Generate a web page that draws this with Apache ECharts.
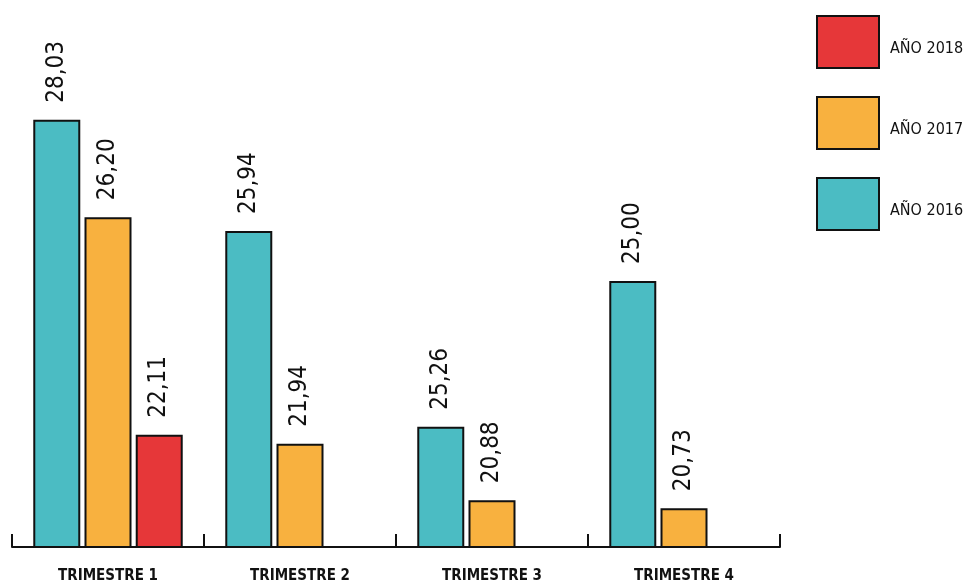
<!DOCTYPE html>
<html>
<head>
<meta charset="utf-8">
<script src="https://cdn.jsdelivr.net/npm/echarts@6/dist/echarts.min.js"></script>
<style>
  html, body { margin: 0; padding: 0; background: #fff; }
  #chart { width: 966px; height: 585px; }
</style>
</head>
<body>
<div id="chart"></div>
<script>
// trimestres
const categories = ["TRIMESTRE 1", "TRIMESTRE 2", "TRIMESTRE 3", "TRIMESTRE 4"];
// bar heights as drawn in the picture (the T3 2016 bar is drawn at ~22,26 but labelled 25,26)
const data2016 = [28.03, 25.94, 22.26, 25.0];
const data2017 = [26.2, 21.94, 20.88, 20.73];
const data2018 = [22.11, null, null, null];
// printed labels
const labels2016 = ["28,03", "25,94", "25,26", "25,00"];
const labels2017 = ["26,20", "21,94", "20,88", "20,73"];
const labels2018 = ["22,11", "", "", ""];
const legendNames = ["AÑO 2018", "AÑO 2017", "AÑO 2016"];

const font = "'Liberation Sans Narrow', 'DejaVu Sans Condensed', sans-serif";

let myChart = echarts.init(document.getElementById("chart"));

function barSeries(name, data, labels, color) {
  return {
    name: name,
    type: "bar",
    data: data,
    barWidth: 47,
    barGap: "9%",
    itemStyle: {
      color: color,
      borderColor: "#111",
      borderWidth: 2
    },
    label: {
      show: true,
      position: "top",
      rotate: 90,
      align: "left",
      verticalAlign: "middle",
      distance: 17,
      color: "#111",
      fontFamily: font,
      fontSize: 24,
      formatter: p => labels[p.dataIndex]
    }
  };
}

let option = {
  animation: false,
  grid: {
    left: 12,
    right: 186,
    top: 15,
    bottom: 38
  },
  legend: {
    data: legendNames,
    orient: "vertical",
    left: 816,
    top: 15,
    padding: 0,
    itemWidth: 62,
    itemHeight: 52,
    itemGap: 27,
    icon: "rect",
    itemStyle: { borderColor: "#111", borderWidth: 2 },
    formatter: name => "{t|" + name + "}",
    textStyle: {
      fontFamily: font,
      fontSize: 16,
      color: "#111",
      rich: {
        t: {
          fontFamily: font,
          fontSize: 16,
          color: "#111",
          padding: [14, 0, 0, 6]
        }
      }
    }
  },
  xAxis: {
    type: "category",
    data: categories,
    axisLine: { lineStyle: { color: "#111", width: 2 } },
    axisTick: {
      show: true,
      inside: true,
      length: 13,
      lineStyle: { color: "#111", width: 2 }
    },
    axisLabel: {
      margin: 22,
      color: "#111",
      fontFamily: font,
      fontWeight: "bold",
      fontSize: 15
    }
  },
  yAxis: {
    type: "value",
    min: 20,
    max: 30,
    show: false
  },
  series: [
    barSeries("AÑO 2016", data2016, labels2016, "#4BBCC3"),
    barSeries("AÑO 2017", data2017, labels2017, "#F8B13F"),
    barSeries("AÑO 2018", data2018, labels2018, "#E63739")
  ]
};

myChart.setOption(option, true);
</script>
</body>
</html>
